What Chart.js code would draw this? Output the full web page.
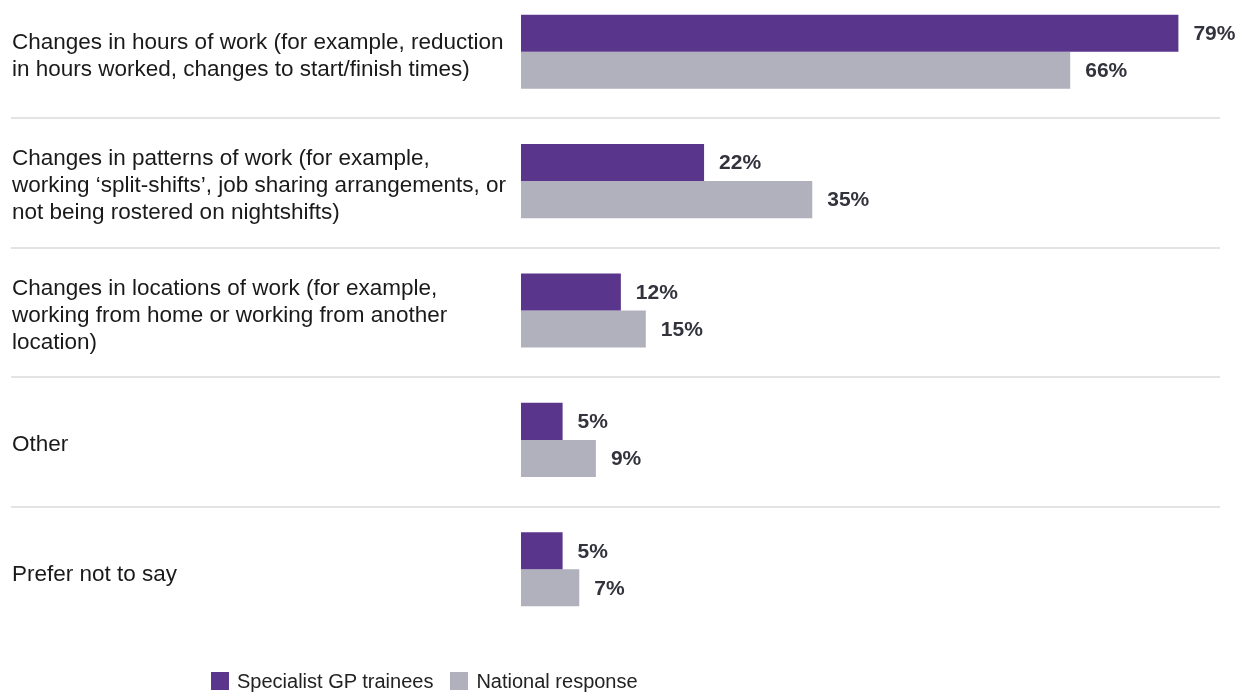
<!DOCTYPE html>
<html>
<head>
<meta charset="utf-8">
<script src="https://cdn.jsdelivr.net/npm/chart.js@4/dist/chart.umd.min.js"></script>
<style>
  html, body { margin: 0; padding: 0; background: #fff; }
  #wrap { position: relative; width: 1237px; height: 694px; overflow: hidden; }
  #chart { position: absolute; left: 0; top: -13px; }
  #legend { position: absolute; left: 211px; top: 672px; display: flex; align-items: center;
    font-family: "Liberation Sans", Arial, sans-serif; font-size: 20px; color: #222; line-height: 18px; }
  #legend span.box { display: inline-block; width: 18px; height: 18px; margin-right: 8px; }
  #legend span.item { display: flex; align-items: center; margin-right: 17px; }
</style>
</head>
<body>
<div id="wrap">
  <canvas id="chart" width="1237" height="707"></canvas>
  <div id="legend"></div>
</div>
<script>
// Categories (multi-line labels as drawn in the picture)
const categories = [
  ['Changes in hours of work (for example, reduction', 'in hours worked, changes to start/finish times)'],
  ['Changes in patterns of work (for example,', 'working \u2018split-shifts\u2019, job sharing arrangements, or', 'not being rostered on nightshifts)'],
  ['Changes in locations of work (for example,', 'working from home or working from another', 'location)'],
  'Other',
  'Prefer not to say'
];

// Series values (%)
const gpTrainees = [79, 22, 12, 5, 5];
const nationalResponse = [66, 35, 15, 9, 7];

const seriesNames = ['Specialist GP trainees', 'National response'];
const seriesColors = ['#5a358c', '#b1b1bd'];

// Value labels at the end of each bar + separators between categories
const valueLabels = {
  id: 'valueLabels',
  afterDatasetsDraw(chart) {
    const ctx = chart.ctx;
    ctx.save();
    ctx.font = 'bold 21px "Liberation Sans", Arial, sans-serif';
    ctx.fillStyle = '#33333d';
    ctx.textAlign = 'left';
    ctx.textBaseline = 'middle';
    chart.data.datasets.forEach((ds, i) => {
      chart.getDatasetMeta(i).data.forEach((bar, j) => {
        ctx.fillText(ds.data[j] + '%', bar.x + 15, bar.y + 1);
      });
    });
    ctx.restore();
  },
  beforeDatasetsDraw(chart) {
    const ctx = chart.ctx;
    const y = chart.scales.y;
    ctx.save();
    ctx.strokeStyle = '#e3e3e3';
    ctx.lineWidth = 2;
    for (let i = 0; i < categories.length - 1; i++) {
      const sep = Math.round((y.getPixelForValue(i) + y.getPixelForValue(i + 1)) / 2 + 2);
      ctx.beginPath();
      ctx.moveTo(11, sep);
      ctx.lineTo(1220, sep);
      ctx.stroke();
    }
    ctx.restore();
  }
};

new Chart(document.getElementById('chart'), {
  type: 'bar',
  data: {
    labels: categories,
    datasets: [
      { label: seriesNames[0], data: gpTrainees, backgroundColor: seriesColors[0] },
      { label: seriesNames[1], data: nationalResponse, backgroundColor: seriesColors[1] }
    ]
  },
  options: {
    indexAxis: 'y',
    responsive: false,
    animation: false,
    layout: { padding: { top: 0, bottom: 60, left: 12, right: 17 } },
    datasets: { bar: { barPercentage: 1, categoryPercentage: 0.573 } },
    plugins: { legend: { display: false }, tooltip: { enabled: false } },
    scales: {
      x: { display: false, min: 0, max: 84 },
      y: {
        grid: { display: false },
        border: { display: false },
        afterFit(scale) {
          scale.width = 509;
          scale.paddingTop = 0;
          scale.paddingBottom = 0;
        },
        ticks: {
          crossAlign: 'far',
          labelOffset: 5,
          color: '#1a1a1a',
          font: { family: '"Liberation Sans", Arial, sans-serif', size: 22.5, lineHeight: 1.2 }
        }
      }
    }
  },
  plugins: [valueLabels]
});

// HTML legend built from the series
const legend = document.getElementById('legend');
seriesNames.forEach((name, i) => {
  const item = document.createElement('span');
  item.className = 'item';
  const box = document.createElement('span');
  box.className = 'box';
  box.style.background = seriesColors[i];
  item.appendChild(box);
  item.appendChild(document.createTextNode(name));
  legend.appendChild(item);
});
</script>
</body>
</html>
